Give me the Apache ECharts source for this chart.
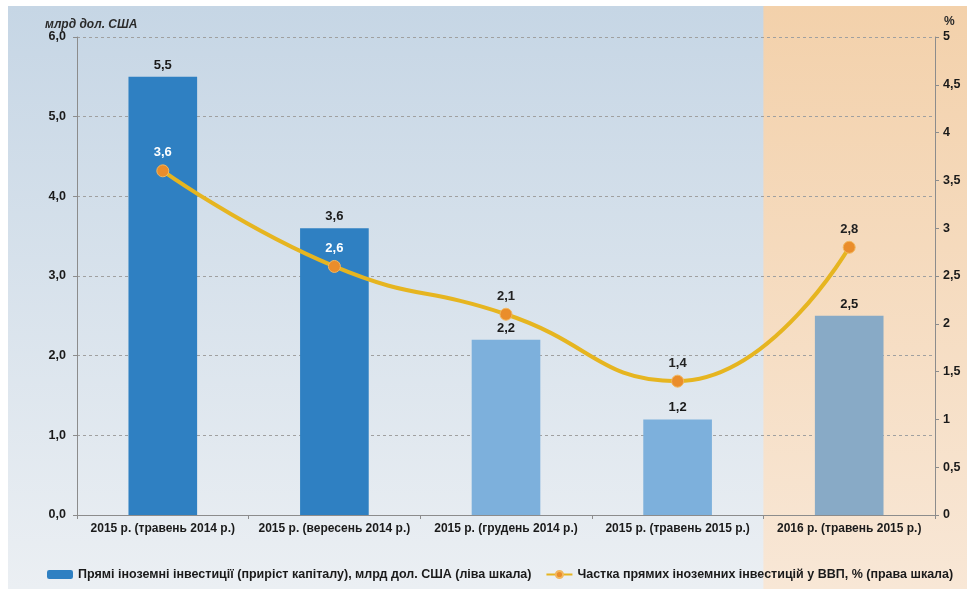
<!DOCTYPE html>
<html>
<head>
<meta charset="utf-8">
<script src="https://cdn.jsdelivr.net/npm/echarts@6/dist/echarts.min.js"></script>
<style>
  html, body { margin: 0; padding: 0; background: #fff; }
  #chart { width: 967px; height: 589px; }
</style>
</head>
<body>
<div id="chart"></div>
<script>
// категорії та дані
var categories = ['2015 р. (травень 2014 р.)', '2015 р. (вересень 2014 р.)', '2015 р. (грудень 2014 р.)', '2015 р. (травень 2015 р.)', '2016 р. (травень 2015 р.)'];
var fdiValues = [5.5, 3.6, 2.2, 1.2, 2.5];
var gdpShare = [3.6, 2.6, 2.1, 1.4, 2.8];
var leftTicks = [0, 1, 2, 3, 4, 5, 6];
var rightTicks = [0, 0.5, 1, 1.5, 2, 2.5, 3, 3.5, 4, 4.5, 5];

var barColors = ['#2f80c2', '#2f80c2', '#7db0dc', '#7db0dc', '#88aac6'];
var lineLabelColors = ['#ffffff', '#ffffff', '#222222', '#222222', '#222222'];
var font = '"Liberation Sans", Arial, sans-serif';

function comma(v, d) {
  return (d ? v.toFixed(d) : String(v)).replace('.', ',');
}

var myChart = echarts.init(document.getElementById('chart'));

var option = {
  backgroundColor: '#ffffff',
  textStyle: { fontFamily: font },
  animation: false,
  title: [
    { text: 'млрд дол. США', left: 40, top: 14,
      textStyle: { fontSize: 12, fontWeight: 'bold', fontStyle: 'italic', color: '#2a2a2a', fontFamily: font } },
    { text: '%', left: 939, top: 11,
      textStyle: { fontSize: 12, fontWeight: 'bold', color: '#2a2a2a', fontFamily: font } }
  ],
  grid: { left: 77, right: 32, top: 37, bottom: 74 },
  legend: {
    left: 42, top: 563, width: 925,
    itemWidth: 26, itemHeight: 9, itemGap: 14,
    textStyle: { fontSize: 12.5, fontWeight: 'bold', color: '#1a1a1a', fontFamily: font },
    data: [
      { name: 'Прямі іноземні інвестиції (приріст капіталу), млрд дол. США (ліва шкала)', itemStyle: { color: '#2f80c2' } },
      { name: 'Частка прямих іноземних інвестицій у ВВП, % (права шкала)' }
    ]
  },
  xAxis: {
    type: 'category',
    data: categories,
    axisLine: { lineStyle: { color: '#8c8c8c', width: 1 } },
    axisTick: { show: true, length: 4, lineStyle: { color: '#8c8c8c' } },
    axisLabel: { interval: 0, fontSize: 12, fontWeight: 'bold', color: '#1a1a1a', margin: 8, fontFamily: font }
  },
  yAxis: [
    {
      type: 'value', min: leftTicks[0], max: leftTicks[leftTicks.length - 1], interval: 1,
      axisLine: { show: true, lineStyle: { color: '#8c8c8c' } },
      axisTick: { show: true, length: 4, lineStyle: { color: '#8c8c8c' } },
      axisLabel: { fontSize: 12.5, fontWeight: 'bold', color: '#1a1a1a', margin: 11,
        formatter: function (v) { return comma(v, 1); } },
      splitLine: { show: true, lineStyle: { color: '#a0a0a0', type: [3, 3], width: 1 } }
    },
    {
      type: 'value', min: rightTicks[0], max: rightTicks[rightTicks.length - 1], interval: 0.5,
      position: 'right',
      axisLine: { show: true, lineStyle: { color: '#8c8c8c' } },
      axisTick: { show: true, length: 4, lineStyle: { color: '#8c8c8c' } },
      axisLabel: { fontSize: 12.5, fontWeight: 'bold', color: '#1a1a1a', margin: 8,
        formatter: function (v) { return comma(v); } },
      splitLine: { show: false }
    }
  ],
  series: [
    {
      name: 'Прямі іноземні інвестиції (приріст капіталу), млрд дол. США (ліва шкала)',
      type: 'bar',
      yAxisIndex: 0,
      barWidth: '40%',
      data: fdiValues.map(function (v, i) {
        return { value: v, itemStyle: { color: barColors[i] } };
      }),
      label: {
        show: true, position: 'top', distance: 5,
        fontSize: 13, fontWeight: 'bold', color: '#1a1a1a',
        formatter: function (p) { return comma(p.value, 1); }
      },
      z: 2
    },
    {
      name: 'Частка прямих іноземних інвестицій у ВВП, % (права шкала)',
      type: 'line',
      yAxisIndex: 1,
      smooth: 0.5,
      symbol: 'circle',
      symbolSize: 12,
      lineStyle: { color: '#e6b520', width: 4 },
      itemStyle: { color: '#ea8d2b', borderColor: '#f2b75e', borderWidth: 1 },
      data: gdpShare.map(function (v, i) {
        return { value: v, label: { color: lineLabelColors[i] } };
      }),
      label: {
        show: true, position: 'top', distance: 5,
        fontSize: 13, fontWeight: 'bold',
        formatter: function (p) { return comma(p.value); }
      },
      z: 5
    }
  ]
};

myChart.setOption(option);

// фон: синя частина та помаранчева зона прогнозу (від межі останньої категорії)
var gridRect = myChart.getModel().getComponent('grid').coordinateSystem.getRect();
var band = gridRect.width / categories.length;
var splitX = myChart.convertToPixel({ xAxisIndex: 0 }, categories[categories.length - 1]) - band / 2;

myChart.setOption({
  graphic: [
    {
      type: 'rect', z: -10, silent: true,
      shape: { x: 8, y: 6, width: 967 - 8, height: 589 - 6 },
      style: { fill: new echarts.graphic.LinearGradient(0, 0, 0, 1, [
        { offset: 0, color: '#c6d6e5' }, { offset: 1, color: '#ebeff3' }]) }
    },
    {
      type: 'rect', z: -9, silent: true,
      shape: { x: splitX, y: 6, width: 967 - splitX, height: 589 - 6 },
      style: { fill: new echarts.graphic.LinearGradient(0, 0, 0, 1, [
        { offset: 0, color: '#f3d1ab' }, { offset: 1, color: '#f8e7d6' }]) }
    }
  ]
});
</script>
</body>
</html>
